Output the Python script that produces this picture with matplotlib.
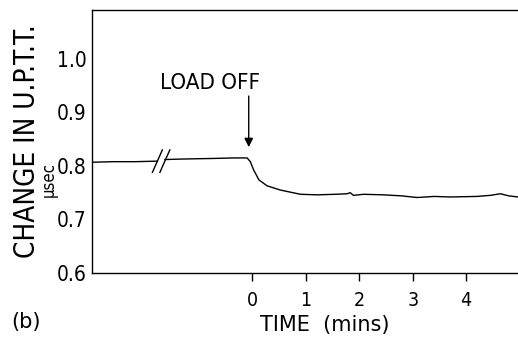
import matplotlib
matplotlib.use("Agg")
import matplotlib.pyplot as plt

#_____________________________DATA_______________________________________#
# before the axis break
t_before = [-3.0, -2.6, -2.2, -1.78]
v_before = [0.807, 0.808, 0.808, 0.809]

# after the axis break: plateau, load off at t=0, then decay
t_after = [-1.64, -1.3, -0.75, -0.35, -0.1, -0.04, 0.02, 0.12, 0.27, 0.52, 0.90,
           1.21, 1.55, 1.77, 1.83, 1.89, 2.08, 2.45, 2.8, 3.08, 3.4, 3.70, 4.2,
           4.45, 4.64, 4.8, 4.97]
v_after = [0.812, 0.813, 0.814, 0.815, 0.815, 0.808, 0.793, 0.774, 0.763, 0.755, 0.747,
           0.746, 0.747, 0.748, 0.750, 0.745, 0.747, 0.746, 0.744, 0.741, 0.743, 0.742, 0.743,
           0.745, 0.748, 0.744, 0.742]

# centres of the two break marks "//"
break_t = [-1.78, -1.64]
break_v = 0.809

y_ticks = [0.6, 0.7, 0.8, 0.9, 1.0]
y_ticklabels = ["0.6", "0.7", "0.8", "0.9", "1.0"]
x_ticks = [0, 1, 2, 3, 4]

#_____________________________PLOT_______________________________________#
plt.rcParams['font.family'] = ['DejaVu Sans']
narrow = dict(fontstretch='condensed')

fig = plt.figure(figsize=(5.18, 3.39), dpi=100)
ax = fig.add_axes([0.178, 0.195, 0.822, 0.776])

ax.plot(t_before, v_before, color='black', lw=1.0)
ax.plot(t_after, v_after, color='black', lw=1.0)

for x0 in break_t:
    ax.plot([x0 - 0.093, x0 + 0.093], [break_v - 0.021, break_v + 0.021],
            color='black', lw=1.0)

ax.annotate("", xy=(-0.07, 0.830), xytext=(-0.07, 0.936),
            arrowprops=dict(arrowstyle='-|>', color='black', lw=1.0,
                            mutation_scale=13))
ax.text(-0.80, 0.955, "LOAD OFF", ha='center', va='center', fontsize=16, **narrow)

ax.set_xlim(-3.0, 4.97)
ax.set_ylim(0.6, 1.092)
ax.set_xticks(x_ticks)
ax.set_yticks(y_ticks)
ax.set_yticklabels(y_ticklabels, **narrow)
ax.set_xticklabels([str(t) for t in x_ticks], **narrow)
ax.tick_params(axis='y', length=0, pad=4, labelsize=15)
ax.tick_params(axis='x', length=6, width=1.0, pad=7, labelsize=14)
ax.spines['right'].set_visible(False)
for s in ('left', 'top', 'bottom'):
    ax.spines[s].set_linewidth(1.0)

fig.text(0.052, 0.584, "CHANGE IN U.P.T.T.", rotation=90, ha='center', va='center',
         fontsize=20, fontweight='light', **narrow)
fig.text(0.095, 0.469, "\u03bcsec", rotation=90, ha='center', va='center', fontsize=12,
         **narrow)
fig.text(0.627, 0.04, "TIME  (mins)", ha='center', va='center', fontsize=15)
fig.text(0.051, 0.05, "(b)", ha='center', va='center', fontsize=15)

fig.savefig("out.png", dpi=100)
